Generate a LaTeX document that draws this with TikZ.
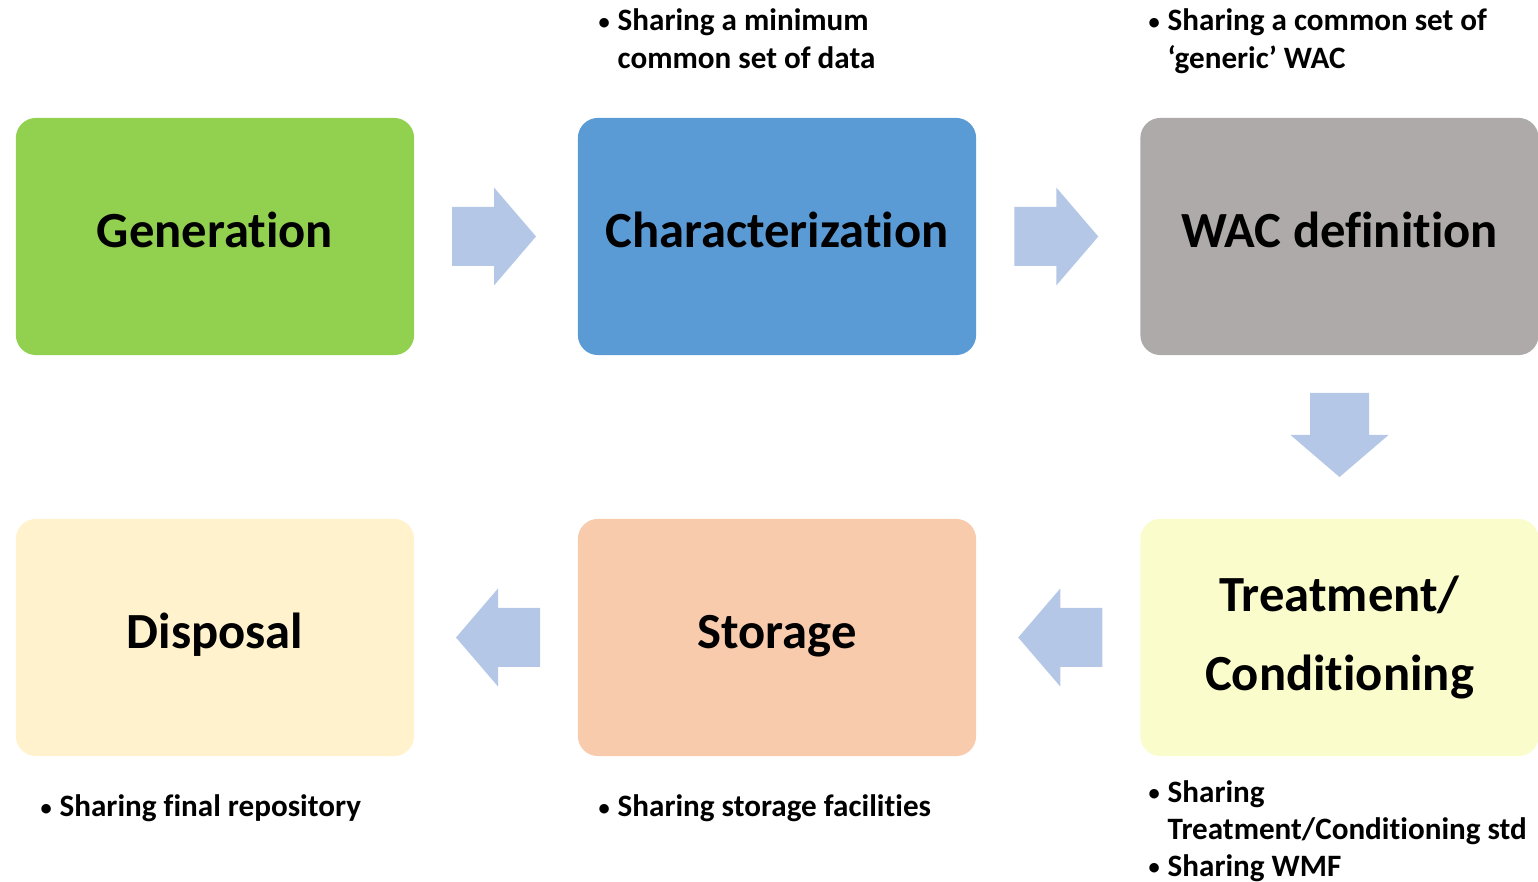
\documentclass[tikz,border=0pt]{standalone}
\usepackage{fontspec}
\setmainfont{Carlito}[Ligatures=CommonOff]
\usepackage{tikz}
\usetikzlibrary{calc}

\definecolor{GenGreen}{HTML}{92D050}
\definecolor{CharBlue}{HTML}{5B9BD5}
\definecolor{WacGray}{HTML}{AEAAAA}
\definecolor{TreatYellow}{HTML}{FAFCCB}
\definecolor{StorOrange}{HTML}{F8CBAD}
\definecolor{DispCream}{HTML}{FFF2CC}
\definecolor{ArrowBlue}{HTML}{B4C7E7}

\providecommand{\BlockArrow}[2]{%
  \edef\rot{#2}% degrees
  \begin{scope}[shift={(#1)}, rotate=\rot]
    \fill[ArrowBlue] (-44,-29.5) -- (-2,-29.5) -- (-2,-49) -- (40,0) -- (-2,49) -- (-2,29.5) -- (-44,29.5) -- cycle;
  \end{scope}
}
\newcommand{\bul}{\raisebox{0.5pt}{\scalebox{0.72}{\textbullet}}}

\begin{document}
\begin{tikzpicture}[x=0.01cm, y=-0.01cm,
  stage/.style={rounded corners=0.2cm, minimum width=3.98cm, minimum height=2.37cm,
    inner sep=0pt, align=center, font=\fontsize{14.4}{22.2}\selectfont\bfseries},
  oneline/.style={text height=8.5pt, text depth=2pt},
  note/.style={inner sep=0pt, anchor=base west, font=\fontsize{8.85}{10.6}\selectfont\bfseries}]
	\useasboundingbox (0,0) rectangle (1538,882);

	% stages
	\node[stage, oneline, fill=GenGreen] (gen) at (215,236.5) {Generation};
	\node[stage, oneline, fill=CharBlue] (char) at (777,236.5) {Characterization};
	\node[stage, oneline, fill=WacGray] (wac) at (1339.5,236.5) {WAC definition};
	\node[stage, fill=TreatYellow] (treat) at (1339.5,637.5) {Treatment/\\Conditioning};
	\node[stage, oneline, fill=StorOrange] (stor) at (777,637.5) {Storage};
	\node[stage, oneline, fill=DispCream] (disp) at (215,637.5) {Disposal};

	\coordinate (m12) at ($ (gen.east)!0.5!(char.west) $);
	\coordinate (m23) at ($ (char.east)!0.5!(wac.west) $);
	\coordinate (m34) at ($ (wac.south)!0.5!(treat.north) $);
	\coordinate (m45) at ($ (treat.west)!0.5!(stor.east) $);
	\coordinate (m56) at ($ (stor.west)!0.5!(disp.east) $);

	\BlockArrow{m12}{0}
	\BlockArrow{m23}{0}
	\BlockArrow{m34}{-90}
	\BlockArrow{m45}{180}
	\BlockArrow{m56}{180}

	% notes
	\node[note] (nchar) at (598,31) {\begin{tabular}[t]{@{}p{5.4pt}@{}l@{}}\bul & Sharing a minimum\\ & common set of data\end{tabular}};
	\node[note] (nwac) at (1148,31) {\begin{tabular}[t]{@{}p{5.4pt}@{}l@{}}\bul & Sharing a common set of\\ & ‘generic’ WAC\end{tabular}};
	\node[note] (ntreat) at (1148,802) {\begin{tabular}[t]{@{}p{5.4pt}@{}l@{}}\bul & Sharing\\ & Treatment/Conditioning std\\ \bul & Sharing WMF\end{tabular}};
	\node[note] (nstor) at (598,817) {\begin{tabular}[t]{@{}p{5.4pt}@{}l@{}}\bul & Sharing storage facilities\end{tabular}};
	\node[note] (ndisp) at (40,817) {\begin{tabular}[t]{@{}p{5.4pt}@{}l@{}}\bul & Sharing final repository\end{tabular}};

\end{tikzpicture}
\end{document}
